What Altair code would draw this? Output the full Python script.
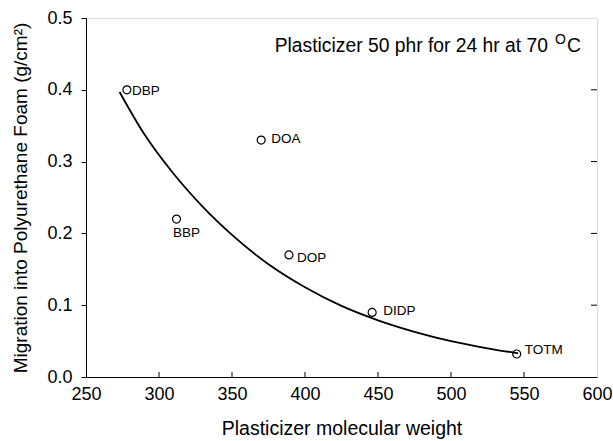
import altair as alt
import pandas as pd

# data points
names = ["DBP", "BBP", "DOA", "DOP", "DIDP", "TOTM"]
mw = [278, 312, 370, 389, 446, 545]
migration = [0.40, 0.22, 0.33, 0.17, 0.09, 0.032]

# fitted curve
curve_x = [273, 290, 310, 330, 350, 375, 400, 425, 450, 475, 500, 525, 546]
curve_y = [0.397, 0.338, 0.283, 0.237, 0.198, 0.157, 0.125, 0.099, 0.079, 0.063, 0.050, 0.040, 0.033]

x_ticks = [250, 300, 350, 400, 450, 500, 550, 600]
y_ticks = [0.0, 0.1, 0.2, 0.3, 0.4, 0.5]

pts = pd.DataFrame({"mw": mw, "mig": migration, "name": names})
curve = pd.DataFrame({"mw": curve_x, "mig": curve_y})

W, H = 511, 359
FONT = "Liberation Sans"

xs = alt.Scale(domain=[250, 600], nice=False)
ys = alt.Scale(domain=[0, 0.5], nice=False)

xaxis = alt.Axis(values=x_ticks, format="d", title="Plasticizer molecular weight",
                 grid=False, ticks=False, labelPadding=8, titlePadding=16,
                 labelFlush=False, labelOverlap=False,
                 labelFontSize=18, titleFontSize=19.5, labelColor="black",
                 titleColor="black", titleFontWeight="normal", domainColor="black",
                 labelFont=FONT, titleFont=FONT)
yaxis = alt.Axis(values=y_ticks, format=".1f",
                 title="Migration into Polyurethane Foam (g/cm²)",
                 grid=False, tickSize=5, tickColor="black", labelPadding=9,
                 titlePadding=16, labelFontSize=18, titleFontSize=19,
                 labelFlush=False, labelOverlap=False,
                 labelColor="black", titleColor="black", titleFontWeight="normal",
                 domainColor="black", labelFont=FONT, titleFont=FONT)

line = alt.Chart(curve).mark_line(color="black", strokeWidth=1.8, interpolate="monotone").encode(
    x=alt.X("mw:Q", scale=xs, axis=xaxis),
    y=alt.Y("mig:Q", scale=ys, axis=yaxis),
)

points = alt.Chart(pts).mark_point(shape="circle", filled=False, color="black",
                                   size=64, strokeWidth=1.2, opacity=1).encode(
    x=alt.X("mw:Q", scale=xs),
    y=alt.Y("mig:Q", scale=ys),
)

offsets = {
    "DBP": (5, 1, "left"),
    "DOA": (10, -1, "left"),
    "BBP": (10, 14, "center"),
    "DOP": (8, 3, "left"),
    "DIDP": (11, -1, "left"),
    "TOTM": (8, -4, "left"),
}
labels = []
for n in names:
    dx, dy, al = offsets[n]
    labels.append(
        alt.Chart(pts).transform_filter(alt.datum.name == n).mark_text(
            align=al, baseline="middle", dx=dx, dy=dy, fontSize=13.5, font=FONT, color="black"
        ).encode(x=alt.X("mw:Q", scale=xs), y=alt.Y("mig:Q", scale=ys), text="name:N")
    )

# inward ticks on bottom and right
xt = pd.DataFrame({"v": x_ticks[1:-1]})
yt = pd.DataFrame({"v": y_ticks[1:-1]})
bottom_ticks = alt.Chart(xt).mark_rule(color="black", strokeWidth=1).encode(
    x=alt.X("v:Q", scale=xs), y=alt.value(H), y2=alt.value(H - 5))
right_ticks = alt.Chart(yt).mark_rule(color="black", strokeWidth=1).encode(
    y=alt.Y("v:Q", scale=ys), x=alt.value(W), x2=alt.value(W - 6))

# annotation
ann_main = alt.Chart(pd.DataFrame({"t": ["Plasticizer 50 phr for 24 hr at 70"]})).mark_text(
    align="right", baseline="alphabetic", fontSize=19.3, font=FONT, color="black"
).encode(x=alt.value(462), y=alt.value(34), text="t:N")
ann_sup = alt.Chart(pd.DataFrame({"t": ["O"]})).mark_text(
    align="left", baseline="alphabetic", fontSize=14, font=FONT, color="black"
).encode(x=alt.value(469), y=alt.value(26), text="t:N")
ann_c = alt.Chart(pd.DataFrame({"t": ["C"]})).mark_text(
    align="left", baseline="alphabetic", fontSize=19.3, font=FONT, color="black"
).encode(x=alt.value(481), y=alt.value(34), text="t:N")

chart = alt.layer(line, points, *labels, bottom_ticks, right_ticks, ann_main, ann_sup, ann_c).properties(
    width=W, height=H,
    autosize=alt.AutoSizeParams(type="none"),
    padding={"left": 86, "top": 18, "right": 16, "bottom": 64},
).configure_view(stroke="black", strokeWidth=1).configure(background="white")

chart.save("out.html", embed_options={"renderer": "svg", "actions": False})
